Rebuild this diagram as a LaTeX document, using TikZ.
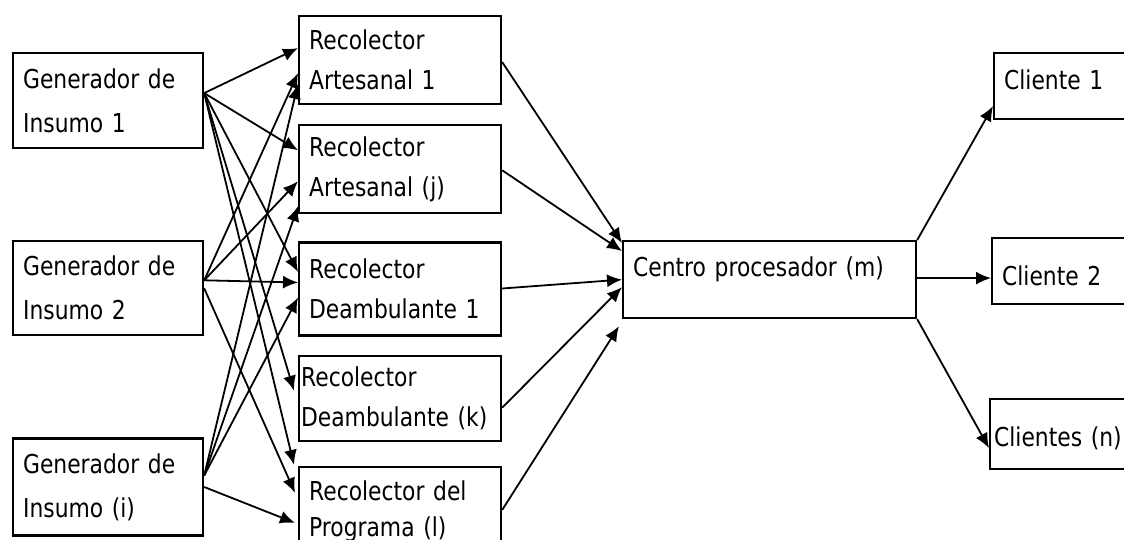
\documentclass[tikz,border=0pt]{standalone}
\usepackage{fontspec}
\setmainfont{DejaVu Sans}[FakeStretch=0.84]
\usetikzlibrary{positioning,arrows.meta}

\begin{document}
\begin{tikzpicture}[x=1pt, y=-1pt, ->, >={Latex[length=15pt,width=13pt]}, line width=1.8pt, font=\fontsize{26}{40}\selectfont]
      \tikzset{caja/.style={draw, -, line width=2.2pt, align=left, inner xsep=10pt, inner ysep=0pt},
               gencaja/.style={caja, font=\fontsize{26}{44}\selectfont, text width=170pt}}
      \useasboundingbox (0,0) rectangle (1124,540);
      % generadores
      \node[gencaja, anchor=north west, minimum height=95pt] (gen1) at (12,52) {Generador de\\Insumo 1};
      \node[gencaja, minimum height=94pt] (gen2) [below=91pt of gen1] {Generador de\\Insumo 2};
      \node[gencaja, minimum height=97pt] (geni) [below=101pt of gen2] {Generador de\\Insumo (i)};
      % recolectores
      \node[caja, anchor=north west, text width=182pt, minimum height=88pt] (ra1) at (298,15) {Recolector\\Artesanal 1};
      \node[caja, text width=182pt, minimum height=88pt] (raj) [below=19pt of ra1] {Recolector\\Artesanal (j)};
      \node[caja, text width=182pt, minimum height=93pt] (rd1) [below=27pt of raj] {Recolector\\Deambulante 1};
      \node[caja, inner xsep=2pt, text width=198pt, minimum height=85pt] (rdk) [below=18pt of rd1] {Recolector\\Deambulante (k)};
      \node[caja, font=\fontsize{26}{36}\selectfont, text width=182pt, minimum height=88pt] (rp) [below=24pt of rdk] {Recolector del\\Programa (l)};
      % centro y clientes
      \node[caja, anchor=north west, text width=273pt, text height=35pt, text depth=42pt] (centro) at (622,240) {Centro procesador (m)};
      \node[caja, anchor=north west, text width=140pt, text height=36pt, text depth=30pt] (c1) at (993,52) {Cliente 1};
      \node[caja, anchor=north west, text width=140pt, text height=47pt, text depth=19pt] (c2) at (991,237) {Cliente 2};
      \node[caja, anchor=north west, inner xsep=4pt, text width=152pt, text height=47pt, text depth=23pt] (cn) at (989,398) {Clientes (n)};
      % generadores -> recolectores
      \draw ([yshift=7.5pt]gen1.east) -- ([yshift=12pt]ra1.west);
      \draw ([yshift=7.5pt]gen1.east) -- ([yshift=19pt]raj.west);
      \draw ([yshift=7.5pt]gen1.east) -- ([yshift=17pt]rd1.west);
      \draw ([yshift=7.5pt]gen1.east) -- ([xshift=-4pt,yshift=7.5pt]rdk.west);
      \draw ([yshift=7.5pt]gen1.east) -- ([xshift=-4pt,yshift=46pt]rp.west);
      \draw ([yshift=8pt]gen2.east) -- ([yshift=-13pt]ra1.west);
      \draw ([yshift=8pt]gen2.east) -- ([yshift=-12pt]raj.west);
      \draw ([yshift=8pt]gen2.east) -- ([yshift=6.5pt]rd1.west);
      \draw (gen2.east) -- ([xshift=-3pt,yshift=18pt]rp.west);
      \draw ([yshift=11.5pt]geni.east) -- ([yshift=-24pt]ra1.west);
      \draw ([yshift=11.5pt]geni.east) -- ([yshift=-37pt]raj.west);
      \draw ([yshift=11.5pt]geni.east) -- ([yshift=-8.5pt]rd1.west);
      \draw (geni.east) -- ([xshift=-3pt,yshift=-12pt]rp.west);
      % recolectores -> centro
      \draw ([yshift=-2pt]ra1.east) -- ([yshift=-3pt]centro.north west);
      \draw ([yshift=-1pt]raj.east) -- ([yshift=28.5pt]centro.west);
      \draw ([yshift=0.5pt]rd1.east) -- (centro.west);
      \draw ([yshift=-9.5pt]rdk.east) -- ([yshift=-7.5pt]centro.west);
      \draw ([yshift=1pt]rp.east) -- ([xshift=-3pt,yshift=-7pt]centro.south west);
      % centro -> clientes
      \draw (centro.north east) -- ([yshift=-20pt]c1.west);
      \draw ([yshift=1.5pt]centro.east) -- ([yshift=-7pt]c2.west);
      \draw (centro.south east) -- ([yshift=-14pt]cn.west);
    \end{tikzpicture}
\end{document}
